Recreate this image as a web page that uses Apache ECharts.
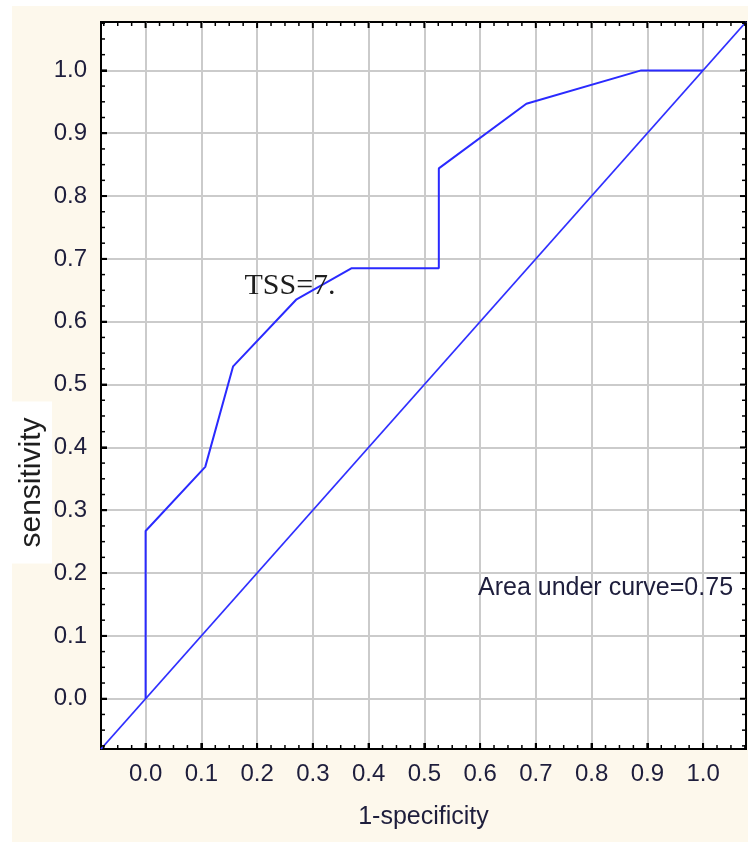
<!DOCTYPE html>
<html>
<head>
<meta charset="utf-8">
<script src="https://cdn.jsdelivr.net/npm/echarts@6/dist/echarts.min.js"></script>
<style>
  html, body { margin: 0; padding: 0; background: #ffffff; }
  #frame { position: absolute; left: 12px; top: 6px; width: 736px; height: 836px; background: #fdf8ec; }
  #chart { width: 736px; height: 836px; }
</style>
</head>
<body>
<div id="frame"><div id="chart"></div></div>
<script>
// ROC curve: 1 - specificity (false positive rate) against sensitivity
const fpr = [0, 0, 0.107, 0.157, 0.27, 0.369, 0.526, 0.526, 0.683, 0.889, 1.0];
const tpr = [0, 0.267, 0.369, 0.529, 0.635, 0.685, 0.685, 0.844, 0.947, 1.0, 1.0];

// Axis ticks, shared by both axes
const tickValues = [0, 0.1, 0.2, 0.3, 0.4, 0.5, 0.6, 0.7, 0.8, 0.9, 1.0];
const tickLabels = ['0.0', '0.1', '0.2', '0.3', '0.4', '0.5', '0.6', '0.7', '0.8', '0.9', '1.0'];
const axisMin = -0.08;
const axisMax = 1.077;

const xTitle = '1-specificity';
const yTitle = 'sensitivity';
const cutoffNote = 'TSS=7.';
const aucNote = 'Area under curve=0.75';

// tick marks every 0.025; every fourth one is a major tick
const tickMarks = [];
for (let k = Math.ceil(axisMin / 0.025); k * 0.025 <= axisMax; k++) {
  tickMarks.push([+(k * 0.025).toFixed(3), k % 4 === 0 ? 1 : 0]);
}

const rocData = fpr.map((x, i) => [x, tpr[i]]);
const chanceData = [[axisMin, axisMin], [axisMax, axisMax]];

const labelFont = { fontFamily: 'Liberation Sans, Arial, sans-serif', fontSize: 24, color: '#1e1e3c' };

function makeAxis(kind) {
  return {
    type: 'value',
    min: axisMin,
    max: axisMax,
    axisLine: { show: false, onZero: false },
    axisTick: { show: true, inside: true, length: 6, customValues: tickValues, lineStyle: { color: '#000', width: 2 } },
    axisLabel: Object.assign({
      show: true,
      customValues: tickValues,
      margin: kind === 'x' ? 13 : 14,
      formatter: v => tickLabels[Math.round(v * 10)]
    }, labelFont),
    splitLine: { show: true, lineStyle: { color: '#cbcbcb', width: 2 } }
  };
}

const xAxis = makeAxis('x');
xAxis.position = 'bottom';
xAxis.name = xTitle;
xAxis.nameLocation = 'middle';
xAxis.nameGap = 56;
xAxis.nameTextStyle = { fontFamily: 'Liberation Sans, Arial, sans-serif', fontSize: 25, color: '#1e1e3c' };

const yAxis = makeAxis('y');
yAxis.position = 'left';

// inward tick marks on all four sides of the plot frame
function tickLine(x1, y1, x2, y2, major) {
  return { type: 'line', shape: { x1, y1, x2, y2 }, style: { stroke: '#000', lineWidth: major ? 2 : 1.5 } };
}
function renderXTicks(params, api) {
  const cs = params.coordSys;
  const px = api.coord([api.value(0), axisMin])[0];
  const major = api.value(1) === 1;
  const len = major ? 6 : 4;
  const bottom = cs.y + cs.height;
  return { type: 'group', children: [
    tickLine(px, bottom, px, bottom - len, major),
    tickLine(px, cs.y, px, cs.y + len, major)
  ] };
}
function renderYTicks(params, api) {
  const cs = params.coordSys;
  const py = api.coord([axisMin, api.value(1)])[1];
  const major = api.value(0) === 1;
  const len = major ? 6 : 4;
  const right = cs.x + cs.width;
  return { type: 'group', children: [
    tickLine(cs.x, py, cs.x + len, py, major),
    tickLine(right, py, right - len, py, major)
  ] };
}

const chart = echarts.init(document.getElementById('chart'), null, { renderer: 'canvas' });
chart.setOption({
  animation: false,
  backgroundColor: 'transparent',
  grid: {
    show: true,
    left: 89, top: 16, width: 645, height: 727,
    backgroundColor: '#ffffff',
    borderColor: '#000000',
    borderWidth: 2
  },
  xAxis: xAxis,
  yAxis: yAxis,
  series: [
    {
      type: 'line',
      data: chanceData,
      symbol: 'none',
      lineStyle: { color: '#2f2fff', width: 1.8 },
      z: 3
    },
    {
      type: 'line',
      data: rocData,
      symbol: 'none',
      lineStyle: { color: '#2a2aff', width: 2 },
      z: 4
    },
    {
      type: 'custom',
      silent: true,
      data: tickMarks,
      encode: { x: 0 },
      renderItem: renderXTicks,
      z: 6
    },
    {
      type: 'custom',
      silent: true,
      data: tickMarks.map(t => [t[1], t[0]]),
      encode: { y: 1 },
      renderItem: renderYTicks,
      z: 6
    }
  ],
  graphic: [
    {
      type: 'text',
      x: 20, y: 476.5,
      rotation: Math.PI / 2,
      z: 10,
      style: {
        text: yTitle,
        font: '30px "Liberation Sans", Arial, sans-serif',
        fill: '#1e1e1e',
        align: 'center',
        verticalAlign: 'middle',
        lineHeight: 40,
        backgroundColor: '#ffffff',
        padding: [0, 16, 0, 16]
      }
    },
    {
      type: 'text',
      x: 278, y: 280,
      z: 10,
      style: {
        text: cutoffNote,
        font: '30px "Liberation Serif", "Times New Roman", serif',
        fill: '#1e1e1e',
        align: 'center',
        verticalAlign: 'middle'
      }
    },
    {
      type: 'text',
      x: 466, y: 582.5,
      z: 10,
      style: {
        text: aucNote,
        font: '25px "Liberation Sans", Arial, sans-serif',
        fill: '#1e1e3c',
        align: 'left',
        verticalAlign: 'middle'
      }
    }
  ]
});
</script>
</body>
</html>
